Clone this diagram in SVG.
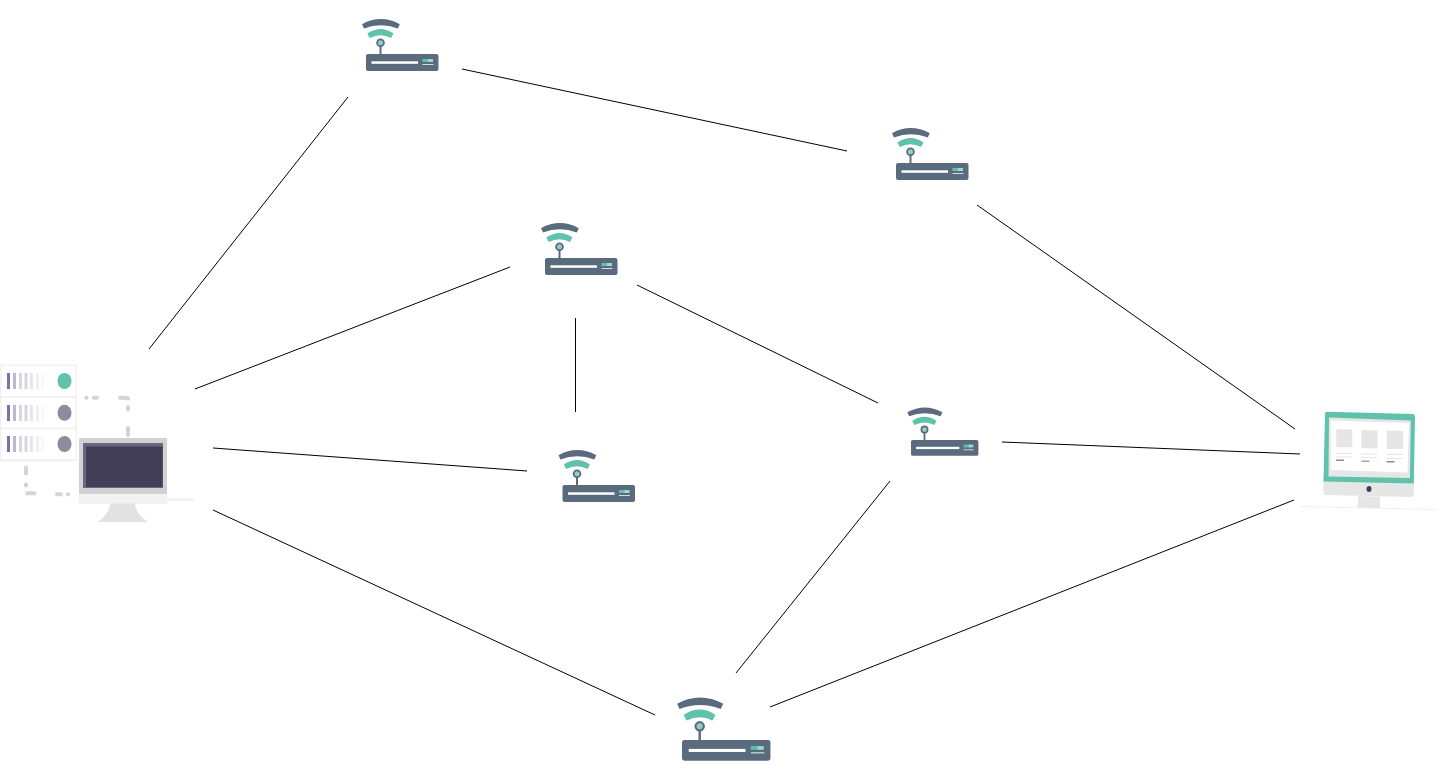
<svg xmlns="http://www.w3.org/2000/svg" width="1440" height="775" viewBox="0 0 1440 775">
<style>
.link{stroke:#000;stroke-width:1;fill:none}
.dash{stroke:#d3d2df;stroke-width:4;fill:none;stroke-linecap:round}
.a1{fill:#7477a6}.a2{fill:#b9bbd4}.a3{fill:#d5d7e6}.a4{fill:#e3e5ef}.a5{fill:#eef0f6}
.g{fill:#e6e6e6}.t{fill:#5fc2ab}.d{fill:#8e8aa0}
</style>
<defs>
<g id="router">
<rect x="0" y="0" width="72.500" height="17" rx="2" fill="#5a6b7e"/>
<path d="M-4-29.800Q14.700-40 33.800-29.800L31.800-25.500Q14.700-32-2-25.500Z" fill="#5a6b7e"/>
<path d="M1.300-20.500Q14.700-29.500 27.500-20.500L25-16Q14.700-21.500 3.800-16Z" fill="#5fc2ab"/>
<path d="M14.500-8V0" stroke="#5a6b7e" stroke-width="2"/>
<circle cx="14.500" cy="-11.200" r="3.400" fill="#8fd0c5" stroke="#5a6b7e" stroke-width="1.800"/>
<rect x="5.500" y="7.300" width="46.500" height="2.500" fill="#fff"/>
<rect x="56.500" y="5" width="7" height="3" fill="#5fc2ab"/>
<rect x="62" y="5" width="5" height="3" fill="#9fd8cc"/>
<rect x="56.500" y="10" width="11" height="1" fill="#d5dbe0"/>
</g>
</defs>
<g id="connectors">
<line class="link" x1="348" y1="97" x2="149" y2="349"/>
<line class="link" x1="462" y1="69" x2="847" y2="151"/>
<line class="link" x1="977" y1="205" x2="1295" y2="429"/>
<line class="link" x1="510" y1="267" x2="195" y2="389"/>
<line class="link" x1="637" y1="285" x2="878" y2="403"/>
<line class="link" x1="575.500" y1="318" x2="575.500" y2="412"/>
<line class="link" x1="213" y1="448" x2="527" y2="471"/>
<line class="link" x1="1002" y1="442" x2="1300" y2="454"/>
<line class="link" x1="890" y1="481" x2="736" y2="673"/>
<line class="link" x1="213" y1="510" x2="655" y2="715"/>
<line class="link" x1="770" y1="707" x2="1294" y2="500"/>
</g>
<g id="router-1"><use href="#router" transform="translate(366 54)"/></g>
<g id="router-2"><use href="#router" transform="translate(896 163)"/></g>
<g id="router-3"><use href="#router" transform="translate(545 258)"/></g>
<g id="router-4"><use href="#router" transform="translate(562.500 485)"/></g>
<g id="router-5"><use href="#router" transform="translate(911 440) scale(.93)"/></g>
<g id="router-6"><use href="#router" transform="translate(682 740) scale(1.22)"/></g>
<g id="source">
<rect x="0" y="364.500" width="77" height="97" fill="#f2f2f2"/>
<rect x="1.500" y="366" width="74" height="30" fill="#fff"/>
<rect x="1.500" y="398" width="74" height="29.500" fill="#fff"/>
<rect x="1.500" y="429.500" width="74" height="29.500" fill="#fff"/>
<g id="bars-1">
<rect class="a1" x="7" y="373" width="3" height="16"/><rect class="a2" x="13" y="373" width="3" height="16"/><rect class="a3" x="19" y="373" width="3" height="16"/><rect class="a3" x="24.500" y="373" width="3" height="16"/><rect class="a4" x="30" y="373" width="3" height="16"/><rect class="a5" x="36" y="373" width="3" height="16"/><rect fill="#f4fbf9" x="41" y="373" width="3" height="16"/>
</g>
<g id="bars-2">
<rect class="a1" x="7" y="405" width="3" height="16"/><rect class="a2" x="13" y="405" width="3" height="16"/><rect class="a3" x="19" y="405" width="3" height="16"/><rect class="a3" x="24.500" y="405" width="3" height="16"/><rect class="a4" x="30" y="405" width="3" height="16"/><rect class="a5" x="36" y="405" width="3" height="16"/><rect fill="#f4fbf9" x="41" y="405" width="3" height="16"/>
</g>
<g id="bars-3">
<rect class="a1" x="7" y="436" width="3" height="16"/><rect class="a2" x="13" y="436" width="3" height="16"/><rect class="a3" x="19" y="436" width="3" height="16"/><rect class="a3" x="24.500" y="436" width="3" height="16"/><rect class="a4" x="30" y="436" width="3" height="16"/><rect class="a5" x="36" y="436" width="3" height="16"/><rect fill="#f4fbf9" x="41" y="436" width="3" height="16"/>
</g>
<ellipse class="t" cx="64.500" cy="381" rx="7" ry="8"/>
<ellipse class="d" cx="64.500" cy="412.800" rx="7" ry="8"/>
<ellipse class="d" cx="64.500" cy="444" rx="7" ry="8"/>
<path class="dash" d="M86.300 397.800h.3M93.700 397.800h3.400M120 397.800h5.500q2.500 0 2.500 1M128 407v2.500M128 428v7M26 467.500v6M26 484.500v1M27 493.300h7.500M57 494.300h4M67.800 494.300h.4"/>
<rect x="79" y="438" width="88" height="56" rx="1" fill="#d2d2d2"/>
<rect x="83" y="443" width="80" height="45" fill="#6b677f"/>
<rect x="86" y="446.500" width="76.500" height="40.500" fill="#423e57"/>
<rect x="78.500" y="494" width="89" height="10" rx="2" fill="#f2f2f2"/>
<rect x="167" y="498" width="28" height="3" fill="#f2f2f2"/>
<path d="M110 503.500H135Q136 515 148.500 522H97.500Q109 515 110 503.500Z" fill="#e2e2e2"/>
</g>
<g id="destination">
<path d="M1323.500 476.500L1414 483.500L1413.800 495Q1413.500 497 1411 497L1326 495Q1323.500 495 1323.500 492.500Z" class="g"/>
<path d="M1325 413.500Q1325 411.700 1327 411.700L1413 414Q1415 414 1415 416.500L1413.800 483.500L1323.500 481.500Z" fill="#5fc2ab"/>
<path d="M1329 417.500L1410.800 420.500L1410 478L1328.500 476.500Z" fill="#e6e6e6"/>
<path d="M1330.700 420.500L1409 423L1407.500 472.500L1330.700 470Z" fill="#fff"/>
<path d="M1336.300 429.300L1352.300 429.300L1352.300 447.300L1336.300 447.300Z" class="g"/>
<path d="M1361.300 430L1377.700 430.500L1377.700 448.500L1361.300 448Z" class="g"/>
<path d="M1386.700 430.500L1403.300 431L1403.300 449L1386.700 449Z" class="g"/>
<path d="M1336 453h16v1h-16zM1336 456.500h16v1h-16zM1361 453.500h16v1h-16zM1361 457h16v1h-16zM1386.500 454h16v1h-16zM1386.500 458h16v1h-16z" class="g"/>
<rect x="1336" y="459.500" width="8" height="1.500" fill="#8e8aa0"/>
<rect x="1361.500" y="460.500" width="8" height="1.500" fill="#a6a3b5"/>
<rect x="1386.500" y="461" width="8" height="1.500" fill="#8e8aa0"/>
<ellipse cx="1369" cy="489" rx="2.500" ry="3" fill="#423e57"/>
<path d="M1358 496L1380 496.800L1380 505.500L1381 508.500L1356 508L1358 505Z" class="g"/>
<path d="M1300 506.500L1437 509.500" stroke="#f0f0f0" stroke-width="1.200" fill="none"/>
</g>
</svg>
